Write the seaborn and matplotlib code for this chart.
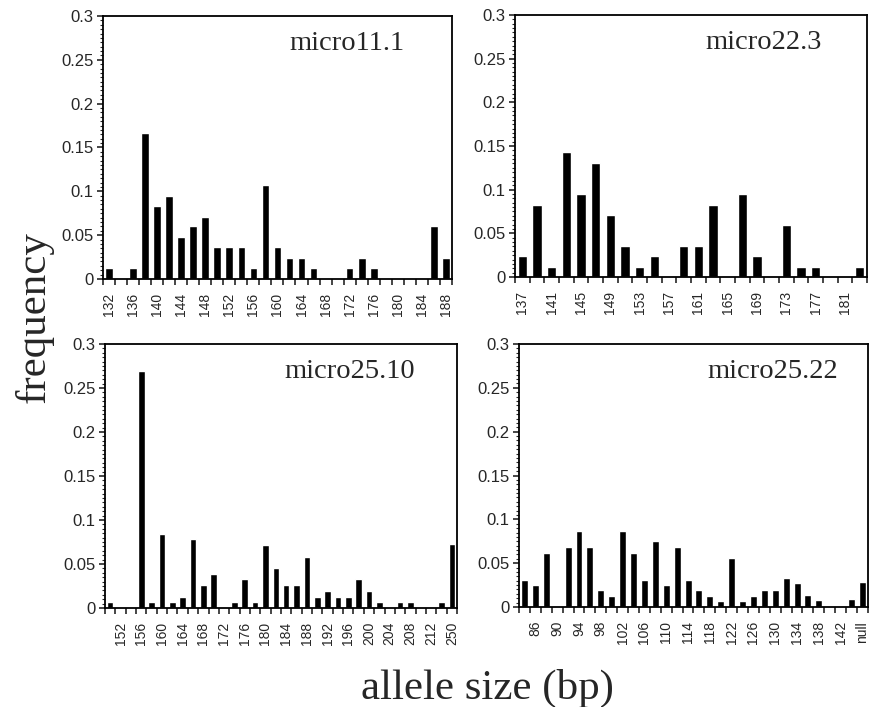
import numpy as np
import pandas as pd
import matplotlib
matplotlib.use("Agg")
import matplotlib.pyplot as plt
import seaborn as sns
from matplotlib import font_manager
from matplotlib.ticker import MultipleLocator

sns.set_style("ticks")
plt.rcParams["font.family"] = ["Liberation Sans", "DejaVu Sans"]

# allele sizes and frequencies
sizes_11_1 = ["132", "134", "136", "138", "140", "142", "144", "146", "148", "150",
              "152", "154", "156", "158", "160", "162", "164", "166", "168", "170",
              "172", "174", "176", "178", "180", "182", "184", "186", "188"]
freq_11_1 = [0.012, 0, 0.012, 0.167, 0.083, 0.095, 0.048, 0.060, 0.071, 0.036,
             0.036, 0.036, 0.012, 0.107, 0.036, 0.024, 0.024, 0.012, 0, 0,
             0.012, 0.024, 0.012, 0, 0, 0, 0, 0.060, 0.024]
shown_11_1 = ["132", "136", "140", "144", "148", "152", "156", "160", "164",
              "168", "172", "176", "180", "184", "188"]

sizes_22_3 = ["137", "139", "141", "143", "145", "147", "149", "151", "153", "155",
              "157", "159", "161", "163", "165", "167", "169", "171", "173", "175",
              "177", "179", "181", "183"]
freq_22_3 = [0.024, 0.083, 0.012, 0.143, 0.095, 0.131, 0.071, 0.036, 0.012, 0.024,
             0, 0.036, 0.036, 0.083, 0, 0.095, 0.024, 0, 0.060, 0.012,
             0.012, 0, 0, 0.012]
shown_22_3 = ["137", "141", "145", "149", "153", "157", "161", "165", "169",
              "173", "177", "181"]

sizes_25_10 = ["150", "152", "154", "156", "158", "160", "162", "164", "166", "168",
               "170", "172", "174", "176", "178", "180", "182", "184", "186", "188",
               "190", "192", "194", "196", "198", "200", "202", "204", "206", "208",
               "210", "212", "214", "250"]
freq_25_10 = [0.0065, 0, 0, 0.269, 0.0065, 0.084, 0.0065, 0.013, 0.078, 0.026,
              0.039, 0, 0.0065, 0.0325, 0.0065, 0.0715, 0.0455, 0.026, 0.026, 0.0585,
              0.013, 0.0195, 0.013, 0.013, 0.0325, 0.0195, 0.0065, 0, 0.0065, 0.0065,
              0, 0, 0.0065, 0.0725]
shown_25_10 = ["152", "156", "160", "164", "168", "172", "176", "180", "184", "188",
               "192", "196", "200", "204", "208", "212", "250"]

sizes_25_22 = ["84", "86", "88", "90", "92", "94", "96", "98", "100", "102",
               "104", "106", "108", "110", "112", "114", "116", "118", "120", "122",
               "124", "126", "128", "130", "132", "134", "136", "138", "140", "142",
               "144", "null"]
freq_25_22 = [0.031, 0.025, 0.062, 0, 0.068, 0.087, 0.068, 0.019, 0.013, 0.087,
              0.062, 0.031, 0.075, 0.025, 0.068, 0.031, 0.019, 0.013, 0.007, 0.056,
              0.007, 0.013, 0.019, 0.019, 0.033, 0.027, 0.014, 0.008, 0, 0,
              0.009, 0.028]
shown_25_22 = ["86", "90", "94", "98", "102", "106", "110", "114", "118", "122",
               "126", "130", "134", "138", "142", "null"]

yticks = [0, 0.05, 0.1, 0.15, 0.2, 0.25, 0.3]
ylabels = ["0", "0.05", "0.1", "0.15", "0.2", "0.25", "0.3"]

installed = {f.name for f in font_manager.fontManager.ttflist}
narrow = "Liberation Sans Narrow" if "Liberation Sans Narrow" in installed else "Liberation Sans"
xsize = 11 if narrow == "Liberation Sans Narrow" else 10

panels = [
    ("micro11.1", sizes_11_1, freq_11_1, shown_11_1, [0.1184, 0.6054, 0.401, 0.372], 0.865),
    ("micro22.3", sizes_22_3, freq_22_3, shown_22_3, [0.592, 0.6082, 0.4046, 0.3706], 0.872),
    ("micro25.10", sizes_25_10, freq_25_10, shown_25_10, [0.1207, 0.140, 0.4046, 0.3734], 0.88),
    ("micro25.22", sizes_25_22, freq_25_22, shown_25_22, [0.5966, 0.1414, 0.401, 0.372], 0.914),
]

fig = plt.figure(figsize=(8.7, 7.07), dpi=100)

for title, sizes, freq, shown, rect, tx in panels:
    ax = fig.add_axes(rect)
    df = pd.DataFrame({"size": sizes, "freq": freq})
    sns.barplot(data=df, x="size", y="freq", order=sizes, color="black",
                width=0.64, saturation=1, ax=ax)
    n = len(sizes)
    ax.set_xlim(-0.5, n - 0.5)
    ax.set_ylim(0, 0.3)
    ax.set_xticks([sizes.index(s) for s in shown], labels=shown, rotation=90,
                  fontfamily=narrow, fontsize=xsize)
    ax.set_xticks(np.arange(n + 1) - 0.5, minor=True)
    ax.tick_params(axis="x", which="major", length=0, pad=10)
    ax.tick_params(axis="x", which="minor", length=4, width=1.2)
    ax.set_yticks(yticks, labels=ylabels, fontsize=12)
    ax.yaxis.set_minor_locator(MultipleLocator(0.005))
    ax.tick_params(axis="y", which="major", length=4, width=1.2, pad=3)
    ax.tick_params(axis="y", which="minor", length=2.2, width=0.8)
    ax.set_xlabel("")
    ax.set_ylabel("")
    for sp in ax.spines.values():
        sp.set_visible(True)
        sp.set_linewidth(1.3)
        sp.set_color("black")
    ax.text(tx, 0.895, title, transform=ax.transAxes, ha="right", va="center",
            fontfamily="Liberation Serif", fontsize=20.5)

fig.text(0.039, 0.552, "frequency", rotation=90, ha="center", va="center",
         fontfamily="Liberation Serif", fontsize=31)
fig.text(0.56, 0.026, "allele size (bp)", ha="center", va="center",
         fontfamily="Liberation Serif", fontsize=31)

fig.savefig("out.png", dpi=100)
